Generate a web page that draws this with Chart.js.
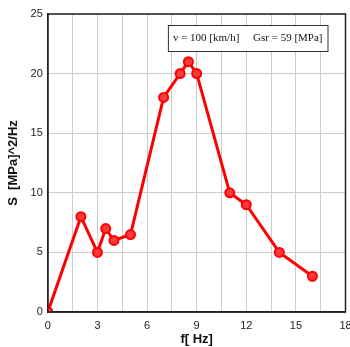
<!DOCTYPE html>
<html>
<head>
<meta charset="utf-8">
<script src="https://cdn.jsdelivr.net/npm/chart.js@4"></script>
<style>
  body { margin: 0; background: #fff; overflow: hidden; }
  #wrap { width: 350px; height: 347px; overflow: hidden; }
</style>
</head>
<body>
<div id="wrap"><canvas id="myChart" width="352" height="347"></canvas></div>
<script>
var freq = [0, 2, 3, 3.5, 4, 5, 7, 8, 8.5, 9, 11, 12, 14, 16];
var psd = [0, 8, 5, 7, 6, 6.5, 18, 20, 21, 20, 10, 9, 5, 3];
var xTicks = [0, 3, 6, 9, 12, 15, 18];
var yTicks = [0, 5, 10, 15, 20, 25];
var boxText = 'v = 100 [km/h]     Gsr = 59 [MPa]';

var points = freq.map(function (f, i) { return { x: f, y: psd[i] }; });

var frame = {
    id: 'frame',
    afterDraw: function (chart) {
        var c = chart.ctx, a = chart.chartArea;
        c.save();
        c.strokeStyle = '#222';
        c.lineWidth = 1.5;
        c.strokeRect(a.left, a.top, a.right - a.left, a.bottom - a.top);
        // legend text box
        c.font = '11px "Liberation Serif", "Times New Roman", serif';
        var w = c.measureText(boxText).width + 10;
        var x0 = a.right - 18 - w, y0 = a.top + 11;
        c.fillStyle = '#fff';
        c.fillRect(x0, y0, w, 26);
        c.lineWidth = 1;
        c.strokeStyle = '#333';
        c.strokeRect(x0 + 0.5, y0 + 0.5, w, 26);
        c.fillStyle = '#111';
        c.textBaseline = 'middle';
        c.fillText(boxText, x0 + 5, y0 + 13.5);
        c.restore();
    }
};

var ctx = document.getElementById('myChart').getContext('2d');
var myChart = new Chart(ctx, {
    type: 'scatter',
    data: {
        datasets: [{
            data: points,
            showLine: true,
            borderColor: '#ff0000',
            backgroundColor: '#ff3030',
            borderWidth: 3,
            pointRadius: 4.5,
            pointBorderWidth: 2,
            pointBorderColor: '#ff0000',
            pointBackgroundColor: '#ff3a3a',
        }],
    },
    options: {
        responsive: false,
        animation: false,
        layout: { padding: { top: 14, right: 0, left: 6, bottom: 0 } },
        plugins: {
            legend: { display: false },
            tooltip: { enabled: false }
        },
        scales: {
            x: {
                type: 'linear',
                min: 0,
                max: 18,
                afterBuildTicks: function (axis) {
                    var t = [];
                    for (var i = 0; i <= 12; i++) t.push({ value: i * 1.5 });
                    axis.ticks = t;
                },
                afterFit: function (axis) {
                    axis.paddingRight = 0;
                    axis.height = 35;
                },
                ticks: {
                    color: '#222',
                    font: { family: 'Liberation Sans, Arial', size: 11 },
                    maxRotation: 0,
                    autoSkip: false,
                    padding: 7,
                    callback: function (v) { return xTicks.indexOf(v) >= 0 ? v : ''; }
                },
                grid: { color: '#cccccc', lineWidth: 1, drawTicks: false },
                border: { color: '#222', width: 1.5 },
                title: {
                    display: true,
                    text: 'f[ Hz]',
                    color: '#111',
                    font: { family: 'Liberation Sans, Arial', size: 13, weight: 'bold' },
                    padding: { top: 0, bottom: 0 }
                }
            },
            y: {
                min: 0,
                max: 25,
                afterBuildTicks: function (axis) {
                    axis.ticks = yTicks.map(function (v) { return { value: v }; });
                },
                ticks: {
                    color: '#222',
                    font: { family: 'Liberation Sans, Arial', size: 11 },
                    padding: 5
                },
                grid: { color: '#cccccc', lineWidth: 1, drawTicks: false },
                border: { color: '#222', width: 1.5 },
                title: {
                    display: true,
                    text: 'S  [MPa]^2/Hz',
                    color: '#111',
                    font: { family: 'Liberation Sans, Arial', size: 13, weight: 'bold' },
                    padding: { top: 0, bottom: 4 }
                }
            }
        }
    },
    plugins: [frame]
});
</script>
</body>
</html>
